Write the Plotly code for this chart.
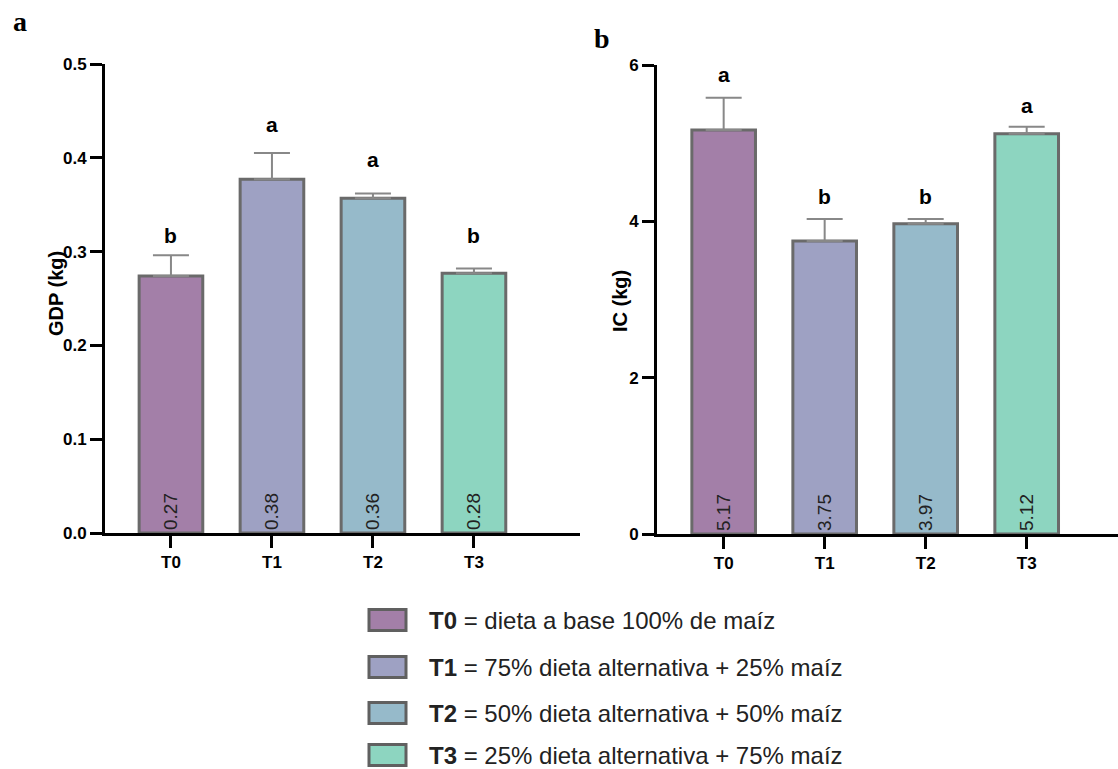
import plotly.graph_objects as go

# ---------------- data ----------------
treatments = ["T0", "T1", "T2", "T3"]
gdp_mean = [0.274, 0.377, 0.357, 0.277]
gdp_sd = [0.022, 0.028, 0.005, 0.005]
gdp_letters = ["b", "a", "a", "b"]
gdp_letter_y = [0.303, 0.421, 0.384, 0.303]

ic_mean = [5.17, 3.75, 3.97, 5.12]
ic_sd = [0.41, 0.28, 0.06, 0.09]
ic_letters = ["a", "b", "b", "a"]
ic_letter_y = [5.71, 4.14, 4.14, 5.31]

gdp_ticks = [0.0, 0.1, 0.2, 0.3, 0.4, 0.5]
gdp_ticktext = ["0.0", "0.1", "0.2", "0.3", "0.4", "0.5"]
ic_ticks = [0, 2, 4, 6]

legend_desc = [
    "dieta a base 100% de maíz",
    "75% dieta alternativa + 25% maíz",
    "50% dieta alternativa + 50% maíz",
    "25% dieta alternativa + 75% maíz",
]

colors = ["#A37FA8", "#9EA1C3", "#96BACA", "#8DD5C0"]

# ---------------- style ----------------
W, H = 1118, 769
FONT = "Arial, Liberation Sans, sans-serif"
SERIF = "Times New Roman, Liberation Serif, serif"
OUTLINE = "#6a6a6a"


def px_x(x):
    return x / W


def px_y(y):
    return 1 - y / H


fig = go.Figure()


def add_panel(means, sds, xa, ya):
    fig.add_trace(go.Bar(
        x=treatments, y=means, xaxis=xa, yaxis=ya,
        marker=dict(color=colors, line=dict(color=OUTLINE, width=3)),
        texttemplate="%{y:.2f}", textposition="inside",
        insidetextanchor="start", textangle=-90,
        textfont=dict(family=FONT, size=19, color="#222222"),
        error_y=dict(type="data", array=sds, arrayminus=[0] * len(sds),
                     symmetric=False, color="#888888", thickness=2, width=18),
        showlegend=False, hoverinfo="skip",
    ))


add_panel(gdp_mean, gdp_sd, "x", "y")
add_panel(ic_mean, ic_sd, "x2", "y2")

axis_common = dict(
    showline=True, linecolor="black", linewidth=3,
    ticks="outside", ticklen=12, tickwidth=3, tickcolor="black",
    showgrid=False, zeroline=False, automargin=False,
    tickfont=dict(family=FONT, size=17, color="black", weight="bold"),
)

fig.update_layout(
    width=W, height=H,
    margin=dict(l=0, r=0, t=0, b=0),
    paper_bgcolor="white", plot_bgcolor="white",
    bargap=0.37,
    xaxis=dict(domain=[px_x(105), px_x(580)], range=[-0.653, 4.05],
               anchor="y", **axis_common),
    yaxis=dict(domain=[px_y(533), px_y(64)], range=[0, 0.5],
               tickvals=gdp_ticks, ticktext=gdp_ticktext,
               anchor="x", **axis_common),
    xaxis2=dict(domain=[px_x(657), 1.0], range=[-0.66, 3.904],
                anchor="y2", **axis_common),
    yaxis2=dict(domain=[px_y(534), px_y(65)], range=[0, 6],
                tickvals=ic_ticks, anchor="x2", **axis_common),
)

annotations = []
# significance letters
for t, l, y in zip(treatments, gdp_letters, gdp_letter_y):
    annotations.append(dict(x=t, y=y, xref="x", yref="y", text=f"<b>{l}</b>",
                            showarrow=False, xanchor="center", yanchor="bottom",
                            font=dict(family=FONT, size=21, color="black")))
for t, l, y in zip(treatments, ic_letters, ic_letter_y):
    annotations.append(dict(x=t, y=y, xref="x2", yref="y2", text=f"<b>{l}</b>",
                            showarrow=False, xanchor="center", yanchor="bottom",
                            font=dict(family=FONT, size=21, color="black")))

# axis titles
annotations.append(dict(x=px_x(56), y=px_y(294), xref="paper", yref="paper",
                        xanchor="center", yanchor="middle",
                        text="<b>GDP (kg)</b>", textangle=-90, showarrow=False,
                        font=dict(family=FONT, size=20, color="black")))
annotations.append(dict(x=px_x(620), y=px_y(301), xref="paper", yref="paper",
                        xanchor="center", yanchor="middle",
                        text="<b>IC (kg)</b>", textangle=-90, showarrow=False,
                        font=dict(family=FONT, size=20, color="black")))

# panel letters
annotations.append(dict(x=px_x(19.5), y=px_y(22), xref="paper", yref="paper",
                        xanchor="center", yanchor="middle",
                        text="<b>a</b>", showarrow=False,
                        font=dict(family=SERIF, size=28, color="black")))
annotations.append(dict(x=px_x(602), y=px_y(38), xref="paper", yref="paper",
                        xanchor="center", yanchor="middle",
                        text="<b>b</b>", showarrow=False,
                        font=dict(family=SERIF, size=28, color="black")))

# manual legend
row_y = [620, 667, 713, 755]
shapes = []
for t, desc, c, yc in zip(treatments, legend_desc, colors, row_y):
    shapes.append(dict(type="rect", xref="paper", yref="paper",
                       x0=px_x(369), x1=px_x(406),
                       y0=px_y(yc + 10.5), y1=px_y(yc - 10.5),
                       fillcolor=c, line=dict(color="#606060", width=3)))
    annotations.append(dict(x=px_x(427), y=px_y(yc), xref="paper", yref="paper",
                            xanchor="left", yanchor="middle",
                            text=f"<b>{t}</b> = {desc}", showarrow=False,
                            font=dict(family=FONT, size=24, color="#222222")))

fig.update_layout(annotations=annotations, shapes=shapes)

fig.write_html("out.html")
